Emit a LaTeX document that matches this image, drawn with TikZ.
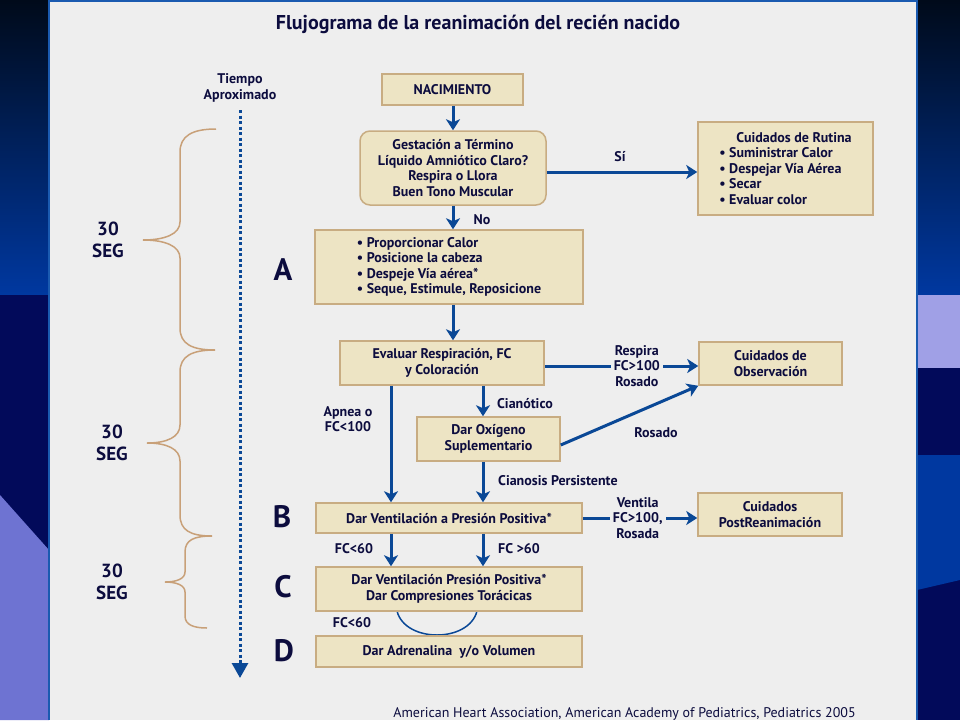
\documentclass[tikz,border=0pt]{standalone}
\usepackage{fontspec}
\setmainfont{PT Sans}
\usetikzlibrary{arrows.meta,calc}
\definecolor{bg}{RGB}{238,238,238}
\definecolor{boxfill}{RGB}{237,228,196}
\definecolor{boxline}{RGB}{200,172,130}
\definecolor{txt}{RGB}{12,12,62}
\definecolor{arr}{RGB}{10,72,150}
\definecolor{bracecol}{RGB}{200,160,120}
\definecolor{frame}{RGB}{26,90,176}
\definecolor{navytop}{RGB}{0,10,26}
\definecolor{bluemid}{RGB}{0,56,160}
\definecolor{navy}{RGB}{2,10,90}
\definecolor{lav}{RGB}{110,115,210}
\definecolor{lav2}{RGB}{160,160,230}
\tikzset{
  box/.style={draw=boxline, line width=1.5pt, fill=boxfill, inner sep=0pt, align=center,
    font=\bfseries\fontsize{14}{15.5}\selectfont, text=txt},
  conn/.style={draw=arr, line width=3pt, -{Stealth[length=11pt,width=14pt,inset=3pt]}},
  lbl/.style={font=\bfseries\fontsize{14}{15.5}\selectfont, text=txt, align=center, inner sep=1pt},
  letter/.style={font=\bfseries\fontsize{31}{31}\selectfont, text=txt, inner sep=0pt},
  seg/.style={font=\bfseries\fontsize{19}{22}\selectfont, text=txt, align=center, inner sep=0pt},
  bracestyle/.style={draw=bracecol, line width=1.5pt},
  taxis/.style={draw=arr, line width=3pt, dash pattern=on 3pt off 2.5pt, -{Triangle[length=15pt,width=16pt]}},
}
\begin{document}
\begin{tikzpicture}[x=1pt,y=-1pt]
\useasboundingbox (0,0) rectangle (960,720);
% outer background
\shade[top color=navytop, bottom color=bluemid] (0,0) rectangle (49,295);
\fill[navy] (0,295) rectangle (49,720);
\fill[lav] (0,495) -- (49,550) -- (49,720) -- (0,720) -- cycle;
\shade[top color=navytop, bottom color=bluemid] (917,0) rectangle (960,295);
\fill[lav2] (917,295) rectangle (960,368);
\fill[navy] (917,368) rectangle (960,720);
\fill[bluemid] (917,455) -- (960,455) -- (960,580) -- (917,590) -- cycle;
% panel
\fill[bg] (49,0) rectangle (917,720);
\draw[frame, line width=2pt] (49,720) -- (49,1) -- (917,1) -- (917,720);

% title
\node[font=\bfseries\fontsize{20}{22}\selectfont, text=txt] (title) at (478,24) {Flujograma de la reanimación del recién nacido};

% time axis
\node[lbl] (tiempo) at (240,88) {Tiempo\\Aproximado};
\coordinate (t0) at (240,110);
\coordinate (t1) at (240,678);
\draw[taxis] (t0) -- (t1);

% braces
\draw[bracestyle] (216,129) .. controls (192,129) and (180,136) .. (180,152) -- (180,222) .. controls (180,234) and (165,240) .. (143,240) .. controls (165,240) and (180,246) .. (180,258) -- (180,328) .. controls (180,344) and (192,350) .. (215,350);
\draw[bracestyle] (215,350) .. controls (192,350) and (180,356) .. (180,372) -- (180,425) .. controls (180,437) and (167,443) .. (147,443) .. controls (167,443) and (180,449) .. (180,461) -- (180,515) .. controls (180,530) and (190,536) .. (212,536);
\draw[bracestyle] (212,536) .. controls (194,536) and (185,540) .. (185,552) -- (185,572) .. controls (185,579) and (176,582) .. (165,582) .. controls (176,582) and (185,585) .. (185,592) -- (185,616) .. controls (185,625) and (194,628) .. (207,628);
\node[seg] (s1) at (108,240) {30\\SEG};
\node[seg] (s2) at (112,443) {30\\SEG};
\node[seg] (s3) at (112,582) {30\\SEG};

% letters
\node[letter] (LA) at (283,270) {A};
\node[letter] (LB) at (282,517) {B};
\node[letter] (LC) at (283,587) {C};
\node[letter] (LD) at (284,651) {D};

% boxes
\node[box, minimum width=141pt, minimum height=31pt] (nac) at (452.5,89.5) {NACIMIENTO};
\node[box, rounded corners=10pt, minimum width=186pt, minimum height=74pt] (gest) at (453,168) {Gestación a Término\\Líquido Amniótico Claro?\\Respira o Llora\\Buen Tono Muscular};
\node[box, align=left, minimum width=175pt, minimum height=93pt] (rutina) at (785.5,168.5) {\hspace*{17pt}Cuidados de Rutina\\• Suministrar Calor\\• Despejar Vía Aérea\\• Secar\\• Evaluar color};
\node[box, align=left, minimum width=268pt, minimum height=74pt] (boxA) at (449,267) {• Proporcionar Calor\\• Posicione la cabeza\\• Despeje Vía aérea*\\• Seque, Estimule, Reposicione};
\node[box, minimum width=204pt, minimum height=44pt] (eval) at (442,363) {Evaluar Respiración, FC\\y Coloración};
\node[box, minimum width=143pt, minimum height=43pt] (obs) at (770.5,363.5) {Cuidados de\\Observación};
\node[box, minimum width=143pt, minimum height=44pt] (oxi) at (488.5,439) {Dar Oxígeno\\Suplementario};
\node[box, minimum width=266pt, minimum height=30pt] (vent) at (449,518) {Dar Ventilación a Presión Positiva*};
\node[box, minimum width=144pt, minimum height=43pt] (post) at (770,514.5) {Cuidados\\PostReanimación};
% loop arc under C (behind box C)
\coordinate (cS) at (449,611);
\draw[arr, line width=1.5pt] ([xshift=-52pt]cS) .. controls ([xshift=-44pt,yshift=-32pt]cS) and ([xshift=20pt,yshift=-32pt]cS) .. ([xshift=28pt]cS);
\node[box, minimum width=266pt, minimum height=44pt] (boxC) at (449,589) {Dar Ventilación Presión Positiva*\\Dar Compresiones Torácicas};
\node[box, minimum width=266pt, minimum height=31pt] (boxD) at (449,651.5) {Dar Adrenalina\ \ y/o Volumen};

% column coordinates
\coordinate (xm) at (453,0);
\coordinate (xl) at (391,0);
\coordinate (xr) at (483,0);

% connectors
\draw[conn] (nac.south -| xm) -- (gest.north -| xm);
\draw[conn] (gest.south -| xm) -- (boxA.north -| xm);
\draw[conn] (boxA.south -| xm) -- (eval.north -| xm);
\draw[conn] ([yshift=-4pt]gest.east) -- ([yshift=-4pt]gest.east -| rutina.west);
\draw[conn] (eval.east |- 0,366) -- node[pos=0.6, lbl, fill=bg, inner xsep=3pt] (lresp) {Respira\\FC>100\\Rosado} (obs.west |- 0,366);
\draw[conn] (eval.south -| xr) -- (oxi.north -| xr);
\draw[conn] (eval.south -| xl) -- (vent.north -| xl);
\draw[conn] ([yshift=-6pt]oxi.east) -- (obs.south west);
\draw[conn] (oxi.south -| xr) -- (vent.north -| xr);
\draw[conn] (vent.east) -- node[pos=0.48, lbl, fill=bg, inner xsep=3pt] (lvent) {Ventila\\FC>100,\\Rosada} (vent.east -| post.west);
\draw[conn] (vent.south -| xl) -- (boxC.north -| xl);
\draw[conn] (vent.south -| xr) -- (boxC.north -| xr);

% labels
\node[lbl] (lsi) at (620,157) {Sí};
\node[lbl] (lno) at (482,220) {No};
\node[lbl] (lcian) at (525,404) {Cianótico};
\node[lbl] (lapnea) at (348,419) {Apnea o\\FC<100};
\node[lbl] (lros) at (656,433) {Rosado};
\node[lbl, anchor=west] (lpers) at (497,481) {Cianosis Persistente};
\node[lbl] (lfc1) at (354,549) {FC<60};
\node[lbl] (lfc2) at (519,549) {FC >60};
\node[lbl] (lfc3) at (352,623) {FC<60};

% footer
\node[font=\fontsize{14}{16}\selectfont, text=txt, anchor=base, inner sep=0pt] (foot) at (624.5,717) {American Heart Association, American Academy of Pediatrics, Pediatrics 2005};
\end{tikzpicture}
\end{document}
